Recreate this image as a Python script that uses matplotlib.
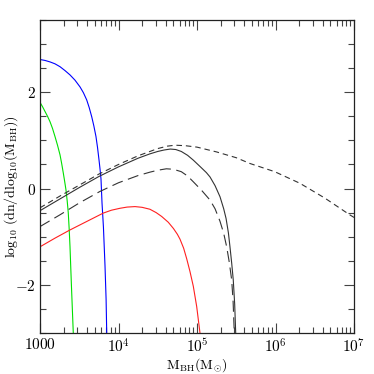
import matplotlib
matplotlib.use("Agg")
import matplotlib.pyplot as plt
from matplotlib.ticker import LogLocator, MultipleLocator, FixedLocator, NullFormatter

plt.rcParams['font.family'] = ['DejaVu Serif']
plt.rcParams['mathtext.fontset'] = 'cm'

# log10(M_BH) and log10(dn/dlog10 M)
blue_logm = [3.000, 3.064, 3.127, 3.191, 3.255, 3.318, 3.382, 3.446, 3.510, 3.553, 3.595, 3.627, 3.659, 3.686, 3.713, 3.733, 3.752, 3.765, 3.777, 3.790, 3.808, 3.828, 3.842, 3.850]
blue_y    = [2.68, 2.66, 2.63, 2.59, 2.53, 2.45, 2.36, 2.25, 2.11, 1.99, 1.84, 1.68, 1.49, 1.30, 1.08, 0.85, 0.59, 0.40, 0.20, -0.30, -0.80, -1.60, -2.30, -3.00]

green_logm = [3.000, 3.032, 3.064, 3.096, 3.127, 3.159, 3.191, 3.223, 3.255, 3.276, 3.297, 3.314, 3.331, 3.346, 3.360, 3.372, 3.382, 3.400, 3.424]
green_y    = [1.79, 1.70, 1.60, 1.50, 1.39, 1.25, 1.08, 0.90, 0.70, 0.52, 0.32, 0.15, -0.03, -0.25, -0.50, -0.85, -1.20, -2.00, -3.00]

red_logm = [3.000, 3.191, 3.382, 3.600, 3.806, 3.91, 4.019, 4.11, 4.210, 4.30, 4.400, 4.48, 4.550, 4.634, 4.700, 4.75, 4.783, 4.83, 4.869, 4.91, 4.953, 4.996, 5.038]
red_y    = [-1.21, -1.03, -0.86, -0.68, -0.51, -0.45, -0.41, -0.385, -0.375, -0.39, -0.43, -0.50, -0.58, -0.70, -0.83, -0.95, -1.05, -1.24, -1.46, -1.72, -2.03, -2.45, -3.00]

solid_logm = [3.00, 3.25, 3.50, 3.75, 4.00, 4.25, 4.40, 4.50, 4.58, 4.66, 4.73, 4.80, 4.88, 4.953, 5.05, 5.12, 5.166, 5.23, 5.293, 5.34, 5.37, 5.40, 5.42, 5.442, 5.462, 5.48, 5.493]
solid_y    = [-0.46, -0.22, 0.02, 0.25, 0.45, 0.63, 0.72, 0.77, 0.80, 0.82, 0.81, 0.77, 0.69, 0.59, 0.44, 0.33, 0.24, 0.06, -0.17, -0.42, -0.62, -0.92, -1.21, -1.55, -1.90, -2.40, -3.00]

sdash_logm = [3.00, 3.25, 3.50, 3.75, 4.00, 4.25, 4.50, 4.62, 4.72, 4.85, 5.00, 5.25, 5.50, 5.675, 5.99, 6.31, 6.63, 6.95, 7.00]
sdash_y    = [-0.40, -0.16, 0.07, 0.30, 0.50, 0.68, 0.83, 0.88, 0.90, 0.89, 0.86, 0.76, 0.64, 0.52, 0.35, 0.11, -0.20, -0.55, -0.60]

ldash_logm = [3.00, 3.25, 3.50, 3.764, 4.00, 4.25, 4.40, 4.50, 4.61, 4.70, 4.80, 4.88, 4.953, 5.06, 5.166, 5.23, 5.293, 5.34, 5.378, 5.41, 5.442, 5.46, 5.475]
ldash_y    = [-0.79, -0.55, -0.30, -0.06, 0.12, 0.27, 0.34, 0.38, 0.41, 0.40, 0.35, 0.26, 0.14, -0.04, -0.24, -0.42, -0.68, -0.93, -1.21, -1.52, -1.90, -2.35, -3.00]

xticks = [1e3, 1e4, 1e5, 1e6, 1e7]
xticklabels = [r'$1000$', r'$10^4$', r'$10^5$', r'$10^6$', r'$10^7$']
yticks = [-2, 0, 2]
yticklabels = [r'$-2$', r'$0$', r'$2$']

fig = plt.figure(figsize=(3.74, 3.74), dpi=100)
ax = fig.add_axes([40/374, 41/374, 314/374, 313/374])

def m(v):
    return [10**x for x in v]

lw = 0.8
ax.plot(m(blue_logm), blue_y, color='#0000ff', lw=lw)
ax.plot(m(green_logm), green_y, color='#00e000', lw=lw)
ax.plot(m(red_logm), red_y, color='#ff2020', lw=lw)
ax.plot(m(solid_logm), solid_y, color='#333333', lw=lw)
ax.plot(m(sdash_logm), sdash_y, color='#333333', lw=lw, dashes=(5, 3.5))
ax.plot(m(ldash_logm), ldash_y, color='#333333', lw=lw, dashes=(10, 5))

ax.set_xscale('log')
ax.set_xlim(1e3, 1e7)
ax.set_ylim(-3, 3.5)
ax.xaxis.set_major_locator(FixedLocator(xticks))
ax.set_xticklabels(xticklabels)
ax.xaxis.set_minor_locator(LogLocator(base=10, subs=range(2, 10), numticks=20))
ax.xaxis.set_minor_formatter(NullFormatter())
ax.yaxis.set_major_locator(FixedLocator(yticks))
ax.set_yticklabels(yticklabels)
ax.yaxis.set_minor_locator(MultipleLocator(0.5))

ax.tick_params(which='both', direction='in', top=True, right=True, labelsize=11, color='#444444')
ax.tick_params(which='major', length=7, width=0.8, pad=3)
ax.tick_params(which='minor', length=4, width=0.8)
for s in ax.spines.values():
    s.set_linewidth(0.9)
    s.set_color('#222222')

ax.set_xlabel(r'$\mathrm{M_{BH}(M_{\odot})}$', fontsize=10)
ax.set_ylabel(r'$\mathrm{log_{10}\ (dn/dlog_{10}(M_{BH}))}$', fontsize=10)
ax.xaxis.set_label_coords((197 - 40) / 314, -(356 - 333) / 313)
ax.yaxis.set_label_coords(-(40 - 20) / 314, (333 - 187) / 313)

fig.savefig('out.png', dpi=100)
